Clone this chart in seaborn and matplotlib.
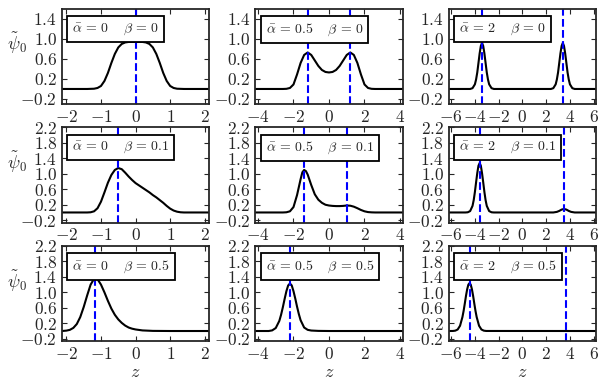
import matplotlib
matplotlib.use("Agg")
import matplotlib.pyplot as plt
import seaborn as sns
from matplotlib.ticker import FixedLocator, FuncFormatter

# --------------------
# Data
# --------------------
alphas = ["0", "0.5", "2"]
betas = ["0", "0.1", "0.5"]

# row 1: beta = 0
z_a0_b0 = [-2.13, -1.4, -1.2, -1.1, -1.0, -0.9, -0.8, -0.7, -0.6, -0.5, -0.4, -0.3, -0.2, -0.1, 0.0,
           0.1, 0.2, 0.3, 0.4, 0.5, 0.6, 0.7, 0.8, 0.9, 1.0, 1.1, 1.2, 1.4, 2.13]
psi_a0_b0 = [0, 0, 0.005, 0.02, 0.06, 0.16, 0.32, 0.52, 0.70, 0.83, 0.90, 0.93, 0.94, 0.94, 0.94,
             0.94, 0.94, 0.93, 0.90, 0.83, 0.70, 0.52, 0.32, 0.16, 0.06, 0.02, 0.005, 0, 0]

z_a05_b0 = [-4.15, -2.6, -2.4, -2.2, -2.0, -1.8, -1.6, -1.4, -1.2, -1.0, -0.8, -0.6, -0.4, -0.2, 0.0,
            0.2, 0.4, 0.6, 0.8, 1.0, 1.2, 1.4, 1.6, 1.8, 2.0, 2.2, 2.4, 2.6, 4.15]
psi_a05_b0 = [0, 0, 0.003, 0.02, 0.09, 0.29, 0.52, 0.68, 0.73, 0.68, 0.57, 0.46, 0.38, 0.34, 0.33,
              0.34, 0.38, 0.46, 0.57, 0.68, 0.73, 0.68, 0.52, 0.29, 0.09, 0.02, 0.003, 0, 0]

z_a2_b0 = [-6.2, -4.4, -4.2, -4.0, -3.9, -3.8, -3.7, -3.6, -3.5, -3.4, -3.3, -3.2, -3.1, -3.0, -2.9, -2.8, -2.6, -2.4,
           2.4, 2.6, 2.8, 2.9, 3.0, 3.1, 3.2, 3.3, 3.4, 3.5, 3.6, 3.7, 3.8, 3.9, 4.0, 4.2, 4.4, 6.2]
psi_a2_b0 = [0, 0, 0.016, 0.093, 0.19, 0.33, 0.52, 0.71, 0.86, 0.92, 0.86, 0.71, 0.52, 0.33, 0.19, 0.093, 0.016, 0,
             0, 0.016, 0.093, 0.19, 0.33, 0.52, 0.71, 0.86, 0.92, 0.86, 0.71, 0.52, 0.33, 0.19, 0.093, 0.016, 0, 0]

# row 2: beta = 0.1
z_a0_b01 = [-2.13, -1.4, -1.3, -1.2, -1.1, -1.0, -0.9, -0.8, -0.7, -0.6, -0.5, -0.4, -0.3, -0.2, -0.1, 0.0,
            0.1, 0.2, 0.3, 0.4, 0.5, 0.6, 0.7, 0.8, 0.9, 1.0, 1.1, 1.2, 1.3, 1.4, 2.13]
psi_a0_b01 = [0, 0, 0.005, 0.03, 0.11, 0.28, 0.52, 0.77, 0.97, 1.10, 1.15, 1.12, 1.03, 0.93, 0.84, 0.76,
              0.70, 0.64, 0.58, 0.52, 0.45, 0.39, 0.32, 0.25, 0.17, 0.10, 0.05, 0.02, 0.005, 0, 0]

z_a05_b01 = [-4.15, -2.6, -2.4, -2.2, -2.0, -1.8, -1.6, -1.5, -1.4, -1.3, -1.2, -1.0, -0.8, -0.6, -0.4, -0.2, 0.0,
             0.2, 0.4, 0.6, 0.8, 1.0, 1.2, 1.4, 1.6, 1.8, 2.0, 2.2, 2.4, 2.6, 4.15]
psi_a05_b01 = [0, 0, 0.005, 0.03, 0.14, 0.45, 0.86, 1.04, 1.10, 1.07, 0.98, 0.71, 0.47, 0.33, 0.25, 0.20, 0.18,
               0.17, 0.165, 0.165, 0.17, 0.18, 0.175, 0.15, 0.11, 0.065, 0.03, 0.01, 0.003, 0, 0]

z_a2_b01 = [-6.2, -4.8, -4.6, -4.4, -4.2, -4.1, -4.0, -3.9, -3.8, -3.7, -3.6, -3.5, -3.4, -3.3, -3.2, -3.1, -3.0,
            -2.8, -2.6, -2.4, 2.6, 2.9, 3.1, 3.3, 3.5, 3.7, 3.9, 4.1, 4.4, 6.2]
psi_a2_b01 = [0, 0, 0.005, 0.036, 0.17, 0.32, 0.53, 0.78, 1.02, 1.21, 1.28, 1.21, 1.02, 0.78, 0.53, 0.32, 0.17,
              0.036, 0.005, 0, 0, 0.015, 0.04, 0.075, 0.09, 0.075, 0.04, 0.015, 0, 0]

# row 3: beta = 0.5
z_a0_b05 = [-2.13, -2.0, -1.9, -1.8, -1.7, -1.6, -1.5, -1.4, -1.3, -1.2, -1.1, -1.0, -0.9, -0.8, -0.7,
            -0.6, -0.5, -0.4, -0.3, -0.2, -0.1, 0.0, 0.2, 0.5, 1.0, 2.13]
psi_a0_b05 = [0.0, 0.01, 0.03, 0.08, 0.18, 0.36, 0.62, 0.92, 1.20, 1.35, 1.34, 1.20, 1.00, 0.78, 0.58,
              0.42, 0.30, 0.21, 0.14, 0.09, 0.06, 0.04, 0.015, 0.003, 0, 0]

z_a05_b05 = [-4.15, -3.4, -3.2, -3.0, -2.8, -2.7, -2.6, -2.5, -2.4, -2.3, -2.2, -2.1, -2.0, -1.9, -1.8,
             -1.7, -1.6, -1.4, -1.2, -1.0, -0.6, 0.0, 4.15]
psi_a05_b05 = [0, 0, 0.016, 0.077, 0.26, 0.42, 0.615, 0.83, 1.03, 1.18, 1.23, 1.18, 1.03, 0.84, 0.63,
               0.44, 0.28, 0.09, 0.03, 0.012, 0.003, 0, 0]

z_a2_b05 = [-6.2, -5.85, -5.65, -5.45, -5.25, -5.05, -4.95, -4.85, -4.75, -4.65, -4.55, -4.45, -4.35, -4.25,
            -4.15, -4.05, -3.95, -3.85, -3.65, -3.45, -3.25, -3.05, 6.2]
psi_a2_b05 = [0, 0.001, 0.009, 0.039, 0.136, 0.36, 0.52, 0.71, 0.91, 1.08, 1.20, 1.24, 1.20, 1.08,
              0.91, 0.71, 0.52, 0.36, 0.136, 0.039, 0.009, 0.001, 0]

curves = [
    [(z_a0_b0, psi_a0_b0), (z_a05_b0, psi_a05_b0), (z_a2_b0, psi_a2_b0)],
    [(z_a0_b01, psi_a0_b01), (z_a05_b01, psi_a05_b01), (z_a2_b01, psi_a2_b01)],
    [(z_a0_b05, psi_a0_b05), (z_a05_b05, psi_a05_b05), (z_a2_b05, psi_a2_b05)],
]

# soliton centres (blue dashed lines)
centres = [
    [[0.0], [-1.2, 1.2], [-3.4, 3.4]],
    [[-0.5], [-1.4, 1.0], [-3.6, 3.5]],
    [[-1.17], [-2.2], [-4.45, 3.67]],
]

x_limits = [2.13, 4.15, 6.2]
x_ticks = [[-2, -1, 0, 1, 2], [-4, -2, 0, 2, 4], [-6, -4, -2, 0, 2, 4, 6]]
y_limits = [(-0.3, 1.6), (-0.26, 2.2), (-0.26, 2.2)]
y_ticks = [[-0.2, 0.2, 0.6, 1.0, 1.4], [-0.2, 0.2, 0.6, 1.0, 1.4, 1.8, 2.2], [-0.2, 0.2, 0.6, 1.0, 1.4, 1.8, 2.2]]

# --------------------
# Style
# --------------------
sns.set_style("ticks")
plt.rcParams.update({
    "mathtext.fontset": "cm",
    "font.family": ["DejaVu Serif"],
    "font.size": 12,
    "axes.linewidth": 1.3,
    "xtick.direction": "in",
    "ytick.direction": "in",
    "xtick.major.size": 3.5,
    "ytick.major.size": 3.5,
    "xtick.major.width": 0.8,
    "ytick.major.width": 0.8,
    "xtick.labelsize": 12.5,
    "ytick.labelsize": 12.5,
})

fig, axes = plt.subplots(3, 3, figsize=(6.07, 3.88), dpi=100)
fig.subplots_adjust(left=0.102, right=0.982, top=0.977, bottom=0.121, wspace=0.313, hspace=0.247)

for i in range(3):
    for j in range(3):
        ax = axes[i, j]
        z, psi = curves[i][j]
        sns.lineplot(x=z, y=psi, ax=ax, color="k", lw=1.5)
        for c in centres[i][j]:
            ax.axvline(c, color="b", ls="--", lw=1.5)

        ax.set_xlim(-x_limits[j], x_limits[j])
        ax.set_ylim(*y_limits[i])
        ax.xaxis.set_major_locator(FixedLocator(x_ticks[j]))
        ax.yaxis.set_major_locator(FixedLocator(y_ticks[i]))
        ax.xaxis.set_major_formatter(FuncFormatter(lambda v, p: f"${v:g}$"))
        ax.yaxis.set_major_formatter(FuncFormatter(lambda v, p: f"${v:.1f}$"))
        ax.tick_params(top=True, right=True)

        ax.text(0.07, 0.87,
                rf"$\bar{{\alpha}}\,=\,{alphas[j]} \quad\; \beta\,=\,{betas[i]}$",
                transform=ax.transAxes, fontsize=10, ha="left", va="top",
                bbox=dict(boxstyle="square,pad=0.35", fc="white", ec="black", lw=1.3))

        if j == 0:
            ax.set_ylabel(r"$\tilde{\psi}_0$", rotation=0, ha="right", fontsize=13)
            ax.yaxis.set_label_coords(-0.235, 0.5)
        else:
            ax.set_ylabel("")
        if i == 2:
            ax.set_xlabel(r"$z$", fontsize=13, labelpad=0)
        else:
            ax.set_xlabel("")

plt.savefig("out.png", dpi=100)
